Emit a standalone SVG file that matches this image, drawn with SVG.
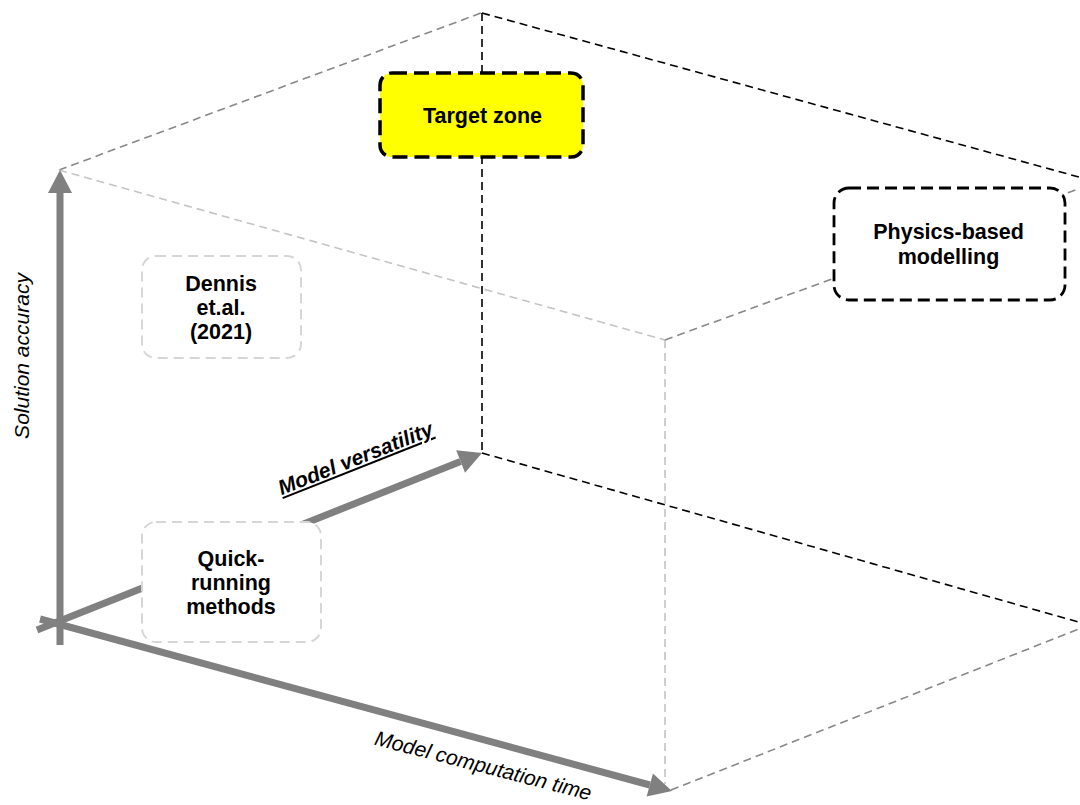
<svg xmlns="http://www.w3.org/2000/svg" width="1080" height="805" viewBox="0 0 1080 805">
  <style>
    .thin { fill: none; stroke-width: 1.6; stroke-dasharray: 8 5; }
    .blk { stroke: #000000; }
    .mid { stroke: #888888; }
    .lite { stroke: #c4c4c4; }
    .axis { fill: none; stroke: #808080; stroke-width: 7; stroke-linecap: butt; }
    .lbl { font-family: "Liberation Sans", Arial, Helvetica, sans-serif; font-size: 21px; fill: #000000; }
    .nodeTxt { font-size: 21.5px; font-weight: bold; }
    .bold { font-weight: bold; }
    .it { font-style: italic; }
    .boxLite { fill: #ffffff; stroke: #d6d6d6; stroke-width: 2; stroke-dasharray: 10 6; }
    .boxDark { stroke: #000000; }
  </style>
  <defs>
    <marker id="ah" markerUnits="userSpaceOnUse" markerWidth="26" markerHeight="26" viewBox="0 -13 26 26" refX="0" refY="0" orient="auto" overflow="visible">
      <path d="M0,-12 L23,0 L0,12 Z" fill="#808080"/>
    </marker>
  </defs>
  <rect x="0" y="0" width="1080" height="805" fill="#ffffff"/>

  <g id="connectors">
    <!-- cube edges -->
    <line class="thin mid" x1="59" y1="170" x2="481" y2="13"/>
    <line class="thin lite" x1="59" y1="170" x2="665" y2="340"/>
    <line class="thin blk" x1="482" y1="13" x2="1097" y2="182"/>
    <line class="thin blk" x1="482" y1="13" x2="482" y2="453"/>
    <line class="thin blk" x1="482" y1="453" x2="1089" y2="625"/>
    <line class="thin lite" x1="665" y1="340" x2="665" y2="784"/>
    <line class="thin mid" x1="665" y1="340" x2="1097" y2="182"/>
    <line class="thin mid" x1="671" y1="790" x2="1089" y2="625"/>
    <!-- axes -->
    <line class="axis" x1="60" y1="645" x2="60" y2="193" marker-end="url(#ah)"/>
    <line class="axis" x1="37" y1="630" x2="460.6" y2="461.5" marker-end="url(#ah)"/>
    <line class="axis" x1="40" y1="619" x2="649.8" y2="785" marker-end="url(#ah)"/>
  </g>

  <g id="axis-labels">
    <text class="lbl it" text-anchor="middle" transform="translate(29,356) rotate(-90)">Solution accuracy</text>
    <text class="lbl bold it" text-anchor="middle" text-decoration="underline" transform="translate(358,465) rotate(-21.6)">Model versatility</text>
    <text class="lbl it" text-anchor="middle" transform="translate(481.5,772.5) rotate(14.5)">Model computation time</text>
  </g>

  <g id="node-dennis">
    <rect class="boxLite" x="142" y="256" width="159" height="102" rx="14" ry="14"/>
    <text class="lbl nodeTxt" text-anchor="middle" x="221" y="291">Dennis</text>
    <text class="lbl nodeTxt" text-anchor="middle" x="221" y="315">et.al.</text>
    <text class="lbl nodeTxt" text-anchor="middle" x="221" y="339">(2021)</text>
  </g>

  <g id="node-quick">
    <rect class="boxLite" x="142" y="522" width="179" height="120" rx="14" ry="14"/>
    <text class="lbl nodeTxt" text-anchor="middle" x="231" y="565.5">Quick-</text>
    <text class="lbl nodeTxt" text-anchor="middle" x="231" y="589.5">running</text>
    <text class="lbl nodeTxt" text-anchor="middle" x="231" y="613.5">methods</text>
  </g>

  <g id="node-target">
    <rect class="boxDark" x="380" y="73" width="203" height="84" rx="12" ry="12" fill="#ffff00" stroke-width="3.5" stroke-dasharray="15 7"/>
    <text class="lbl nodeTxt" text-anchor="middle" x="482.5" y="123">Target zone</text>
  </g>

  <g id="node-physics">
    <rect class="boxDark" x="834" y="188" width="231" height="112" rx="15" ry="15" fill="#ffffff" stroke-width="2.8" stroke-dasharray="12 6"/>
    <text class="lbl nodeTxt" text-anchor="middle" x="948.5" y="239">Physics-based</text>
    <text class="lbl nodeTxt" text-anchor="middle" x="948.5" y="263.5">modelling</text>
  </g>
</svg>
